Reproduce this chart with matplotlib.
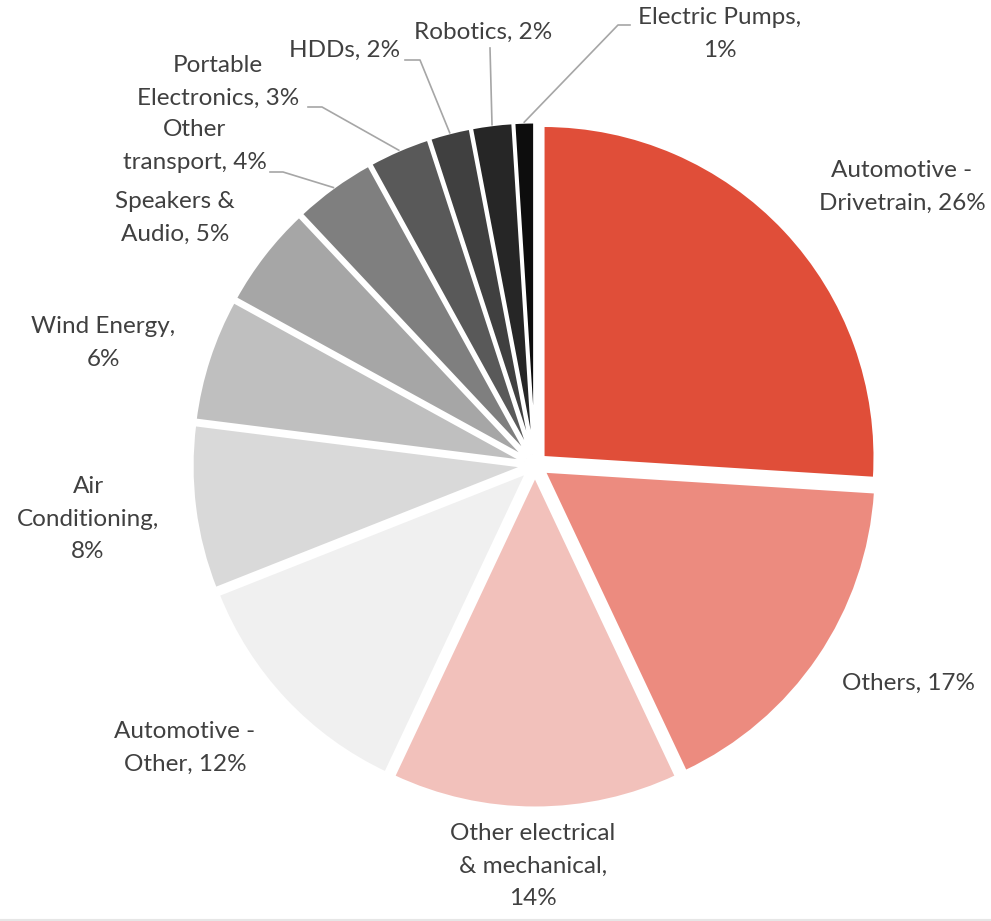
import matplotlib.pyplot as plt
import numpy as np

# --- данные ---
labels = ["Automotive -\nDrivetrain, 26%", "Others, 17%",
          "Other electrical\n& mechanical,\n14%", "Automotive -\nOther, 12%",
          "Air\nConditioning,\n8%", "Wind Energy,\n6%", "Speakers &\nAudio, 5%",
          "Other\ntransport, 4%", "Portable\nElectronics, 3%", "HDDs, 2%",
          "Robotics, 2%", "Electric Pumps,\n1%"]
shares = [26, 17, 14, 12, 8, 6, 5, 4, 3, 2, 2, 1]
colors = ["#E04E39", "#EC8B7F", "#F2C1BB", "#F0F0F0", "#D9D9D9", "#BFBFBF",
          "#A6A6A6", "#7F7F7F", "#595959", "#404040", "#262626", "#0D0D0D"]

# --- раскладка (пиксели исходной картинки, y сверху) ---
W, H = 991, 921
cx, cy, R = 535, 465, 332
gap = 11  # вынос секторов, px (в pie explode не масштабируется на радиус)
label_xy = [(902, 187), (908, 683), (533, 866), (185, 748), (88, 519),
            (103, 343), (175, 218), (195, 146), (218, 82), (345, 50),
            (483, 32), (720, 34)]
# ломаные выноски: (конец у текста, излом) для мелких секторов
leaders = {7: [(270, 172), (283, 172)], 8: [(308, 107), (322, 107)],
           9: [(405, 60), (420, 60)], 10: [(490, 48), (490, 48)],
           11: [(630, 25), (618, 25)]}

plt.rcParams['font.family'] = ['Lato', 'DejaVu Sans']
fig = plt.figure(figsize=(W / 100, H / 100), dpi=100)
ax = fig.add_axes([0, 0, 1, 1])

wedges, _ = ax.pie(shares, colors=colors, startangle=90, counterclock=False,
                   center=(cx, H - cy), radius=R, explode=[gap] * len(shares),
                   wedgeprops=dict(edgecolor='white', linewidth=2.2))
# pie сам ставит пределы — переопределяем после
ax.set_xlim(0, W)
ax.set_ylim(0, H)
ax.set_aspect('equal')
ax.axis('off')

for i, (lab, (lx, ly)) in enumerate(zip(labels, label_xy)):
    ax.text(lx, H - ly, lab, ha='center', va='center', fontsize=17.5,
            color='#404040', linespacing=1.7)

# выноски
for i, pts in leaders.items():
    w = wedges[i]
    mid = np.deg2rad((w.theta1 + w.theta2) / 2)
    ax_x = cx + (R + gap) * np.cos(mid)
    ax_y = (H - cy) + (R + gap) * np.sin(mid)
    xs = [p[0] for p in pts] + [ax_x]
    ys = [H - p[1] for p in pts] + [ax_y]
    ax.plot(xs, ys, color='#A6A6A6', lw=1.2)

ax.plot([0, W], [1, 1], color='#E6E6E6', lw=1.5)

fig.savefig("out.png", dpi=100)
